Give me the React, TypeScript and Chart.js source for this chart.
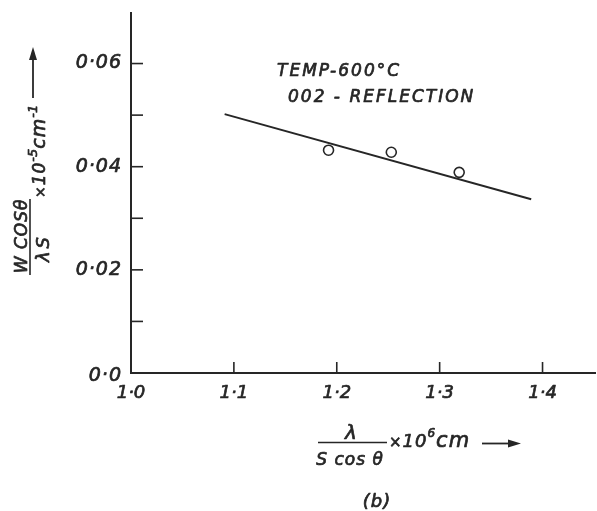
import React, { useEffect, useRef } from 'react';
import { Chart, registerables } from 'chart.js';

Chart.register(...registerables);

const xTicks = [1.0, 1.1, 1.2, 1.3, 1.4];
const xTickLabels = ['1·0', '1·1', '1·2', '1·3', '1·4'];
const yMajorTicks = [0, 0.02, 0.04, 0.06];
const yTickLabels = ['0·0', '0·02', '0·04', '0·06'];
const yMinorTicks = [0.01, 0.03, 0.05];
const measuredX = [1.192, 1.253, 1.319];
const measuredY = [0.0432, 0.0428, 0.0389];
const fitX = [1.091, 1.389];
const fitY = [0.0502, 0.0337];
const annotationLines = ['TEMP-600°C', '002 - REFLECTION'];

const INK = '#262626';
const FONT = "'DejaVu Sans'";

function txt(ctx: CanvasRenderingContext2D, t: string, x: number, y: number, w = 0.7) {
  ctx.fillText(t, x, y);
  ctx.save();
  ctx.lineWidth = w;
  ctx.lineJoin = 'round';
  ctx.strokeText(t, x, y);
  ctx.restore();
}

const overlay = {
  id: 'overlay',
  afterDraw(chart: any) {
    const ctx = chart.ctx as CanvasRenderingContext2D;
    const xs = chart.scales.x;
    const ys = chart.scales.y;
    const area = chart.chartArea;
    const sp = (v: number) => { (ctx as any).letterSpacing = v + 'px'; };
    ctx.save();
    ctx.strokeStyle = INK;
    ctx.fillStyle = INK;
    ctx.lineWidth = 1.6;
    // inward ticks
    xTicks.forEach((v, i) => {
      if (i === 0) return;
      const px = xs.getPixelForValue(v);
      ctx.beginPath();
      ctx.moveTo(px, area.bottom);
      ctx.lineTo(px, area.bottom - 11);
      ctx.stroke();
    });
    [...yMajorTicks, ...yMinorTicks].forEach((v) => {
      if (v === 0) return;
      const py = ys.getPixelForValue(v);
      ctx.beginPath();
      ctx.moveTo(area.left, py);
      ctx.lineTo(area.left + 12, py);
      ctx.stroke();
    });
    // tick labels
    sp(1);
    ctx.font = `italic 19px ${FONT}`;
    ctx.textAlign = 'right';
    ctx.textBaseline = 'middle';
    yMajorTicks.forEach((v, i) => {
      const py = ys.getPixelForValue(v);
      txt(ctx, yTickLabels[i], area.left - 9, py + (v === 0 ? 3 : 0));
    });
    sp(0);
    ctx.font = `italic 18px ${FONT}`;
    ctx.textAlign = 'center';
    xTicks.forEach((v, i) => {
      const px = xs.getPixelForValue(v);
      txt(ctx, xTickLabels[i], px, area.bottom + 20);
    });
    // annotation
    ctx.textAlign = 'left';
    ctx.textBaseline = 'alphabetic';
    sp(2);
    ctx.font = `italic 17px ${FONT}`;
    txt(ctx, annotationLines[0], 277, 76);
    txt(ctx, annotationLines[1], 288, 102);

    // x axis title
    sp(0);
    ctx.textAlign = 'center';
    ctx.font = `italic 20px ${FONT}`;
    txt(ctx, 'λ', 351, 439);
    ctx.lineWidth = 1.6;
    ctx.beginPath();
    ctx.moveTo(318, 442.5);
    ctx.lineTo(387, 442.5);
    ctx.stroke();
    sp(1);
    ctx.font = `italic 17px ${FONT}`;
    txt(ctx, 'S cos θ', 350, 465);
    ctx.textAlign = 'left';
    let cx = 389;
    const seg = (t: string, size: number, base: number, s = 1) => {
      sp(s);
      ctx.font = `italic ${size}px ${FONT}`;
      txt(ctx, t, cx, base);
      cx += ctx.measureText(t).width;
    };
    seg('×', 15, 447);
    seg('10', 18, 447);
    seg('6', 12, 437);
    seg('cm', 21, 447);
    ctx.lineWidth = 1.8;
    ctx.beginPath();
    ctx.moveTo(482, 443.5);
    ctx.lineTo(512, 443.5);
    ctx.stroke();
    ctx.beginPath();
    ctx.moveTo(521, 443.5);
    ctx.lineTo(508, 439.5);
    ctx.lineTo(508, 447.5);
    ctx.closePath();
    ctx.fill();

    // (b)
    sp(1);
    ctx.textAlign = 'center';
    ctx.font = `italic 18px ${FONT}`;
    txt(ctx, '(b)', 377, 507);

    // y axis title (rotated)
    ctx.save();
    ctx.rotate(-Math.PI / 2);
    ctx.textAlign = 'center';
    sp(1);
    ctx.font = `italic 17px ${FONT}`;
    txt(ctx, 'W COSθ', -236, 27);
    ctx.font = `italic 18px ${FONT}`;
    sp(3);
    txt(ctx, 'λS', -248, 49);
    ctx.textAlign = 'left';
    let u = -198;
    const rseg = (t: string, size: number, base: number, s = 1) => {
      sp(s);
      ctx.font = `italic ${size}px ${FONT}`;
      txt(ctx, t, u, base);
      u += ctx.measureText(t).width;
    };
    rseg('×', 14, 45);
    rseg('10', 17, 45);
    rseg('-5', 13, 37, 0);
    rseg('cm', 19, 45);
    rseg('-1', 13, 37, 0);
    ctx.restore();
    ctx.lineWidth = 1.6;
    ctx.beginPath();
    ctx.moveTo(30, 199);
    ctx.lineTo(30, 275);
    ctx.stroke();
    ctx.lineWidth = 1.8;
    ctx.beginPath();
    ctx.moveTo(33, 98);
    ctx.lineTo(33, 58);
    ctx.stroke();
    ctx.beginPath();
    ctx.moveTo(33, 47);
    ctx.lineTo(29, 60);
    ctx.lineTo(37, 60);
    ctx.closePath();
    ctx.fill();
    ctx.restore();
  },
};

export default function App() {
  const ref = useRef<HTMLCanvasElement | null>(null);
  useEffect(() => {
    document.body.style.margin = '0';
    const canvas = ref.current;
    if (!canvas) return;
    const chart = new Chart(canvas, {
      type: 'scatter',
      data: {
        datasets: [
          {
            label: 'fit',
            data: fitX.map((x, i) => ({ x, y: fitY[i] })),
            showLine: true,
            borderColor: INK,
            borderWidth: 2,
            pointRadius: 0,
            fill: false,
          } as any,
          {
            label: 'measured',
            data: measuredX.map((x, i) => ({ x, y: measuredY[i] })),
            showLine: false,
            pointRadius: 5,
            pointBorderWidth: 1.6,
            pointBorderColor: INK,
            pointBackgroundColor: '#ffffff',
          } as any,
        ],
      },
      options: {
        responsive: false,
        animation: false,
        layout: { autoPadding: false, padding: { left: 131, right: 2, top: 13, bottom: 138 } },
        plugins: { legend: { display: false }, tooltip: { enabled: false } },
        scales: {
          x: {
            type: 'linear',
            min: 1.0,
            max: 1.451,
            grid: { display: false, drawTicks: false },
            border: { display: true, color: INK, width: 2 },
            ticks: { display: false },
          },
          y: {
            type: 'linear',
            min: 0,
            max: 0.0698,
            grid: { display: false, drawTicks: false },
            border: { display: true, color: INK, width: 2 },
            ticks: { display: false },
          },
        },
      },
      plugins: [overlay],
    });
    return () => chart.destroy();
  }, []);
  return (
    <div style={{ width: 597, height: 511, background: '#fff' }}>
      <canvas ref={ref} width={597} height={511} />
    </div>
  );
}
